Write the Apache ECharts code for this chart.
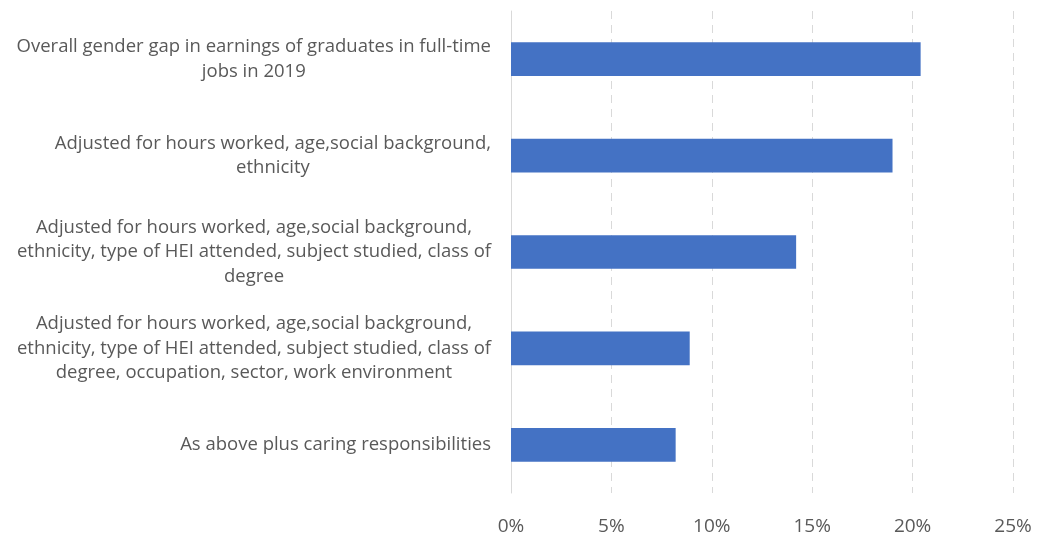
<!DOCTYPE html>
<html>
<head>
<meta charset="utf-8">
<title>Gender gap in graduate earnings</title>
<script src="https://cdn.jsdelivr.net/npm/echarts@6/dist/echarts.min.js"></script>
<style>
  html, body { margin: 0; padding: 0; background: #ffffff; }
  #chart { width: 1037px; height: 538px; }
</style>
</head>
<body>
<div id="chart"></div>
<script>
// Category labels (top to bottom), with their line breaks
const categories = [
  'Overall gender gap in earnings of graduates in full-time\njobs in 2019',
  'Adjusted for hours worked, age,social background,\nethnicity',
  'Adjusted for hours worked, age,social background,\nethnicity, type of HEI attended, subject studied, class of\ndegree',
  'Adjusted for hours worked, age,social background,\nethnicity, type of HEI attended, subject studied, class of\ndegree, occupation, sector, work environment',
  'As above plus caring responsibilities'
];

// Earnings gap (fraction)
const gapValues = [0.204, 0.190, 0.142, 0.089, 0.082];

// X-axis scale
const axisMin = 0;
const axisMax = 0.25;
const axisStep = 0.05;

const FONT = '"Open Sans", Lato, sans-serif';
const TEXT_COLOR = '#595959';
const GRID_COLOR = '#d9d9d9';

const chart = echarts.init(document.getElementById('chart'), null, { renderer: 'canvas' });

chart.setOption({
  animation: false,
  backgroundColor: '#ffffff',
  grid: { left: 511, right: 24, top: 11, bottom: 45, containLabel: false },
  xAxis: {
    type: 'value',
    min: axisMin,
    max: axisMax,
    interval: axisStep,
    axisLine: { show: false },
    axisTick: { show: false },
    splitLine: {
      show: true,
      lineStyle: { color: GRID_COLOR, width: 1, type: [8, 6] }
    },
    axisLabel: {
      margin: 24,
      color: TEXT_COLOR,
      fontFamily: FONT,
      fontSize: 19,
      formatter: v => Math.round(v * 100) + '%'
    }
  },
  yAxis: {
    type: 'category',
    inverse: true,
    data: categories,
    axisLine: { show: true, lineStyle: { color: GRID_COLOR, width: 1 } },
    axisTick: { show: false },
    axisLabel: {
      margin: 20,
      align: 'right',
      color: TEXT_COLOR,
      fontFamily: FONT,
      fontSize: 18.5,
      lineHeight: 24.5,
      // every line is centred inside the right-aligned label block
      formatter: v => '{c|' + v + '}',
      rich: {
        c: {
          align: 'center',
          color: TEXT_COLOR,
          fontFamily: FONT,
          fontSize: 18.5,
          lineHeight: 24.5
        }
      }
    }
  },
  series: [{
    type: 'bar',
    data: gapValues,
    barCategoryGap: '65%',
    itemStyle: { color: '#4472C4' }
  }]
});
</script>
</body>
</html>
